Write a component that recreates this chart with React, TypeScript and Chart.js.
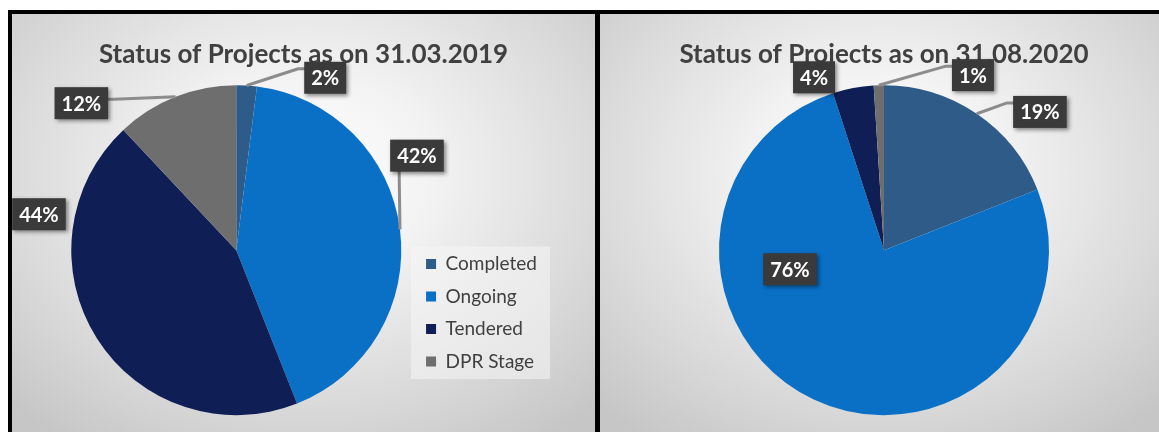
import React, { useEffect, useRef } from "react";
import { Chart, registerables } from "chart.js";

Chart.register(...registerables);

// ---------- data ----------
const CATEGORIES = ["Completed", "Ongoing", "Tendered", "DPR Stage"];
const SHARE_2019 = [2, 42, 44, 12];
const SHARE_2020 = [19, 76, 4, 1];
const TITLE_2019 = "Status of Projects as on 31.03.2019";
const TITLE_2020 = "Status of Projects as on 31.08.2020";

// ---------- styles / layout ----------
const COLORS = ["#2E5B87", "#0A70C6", "#0F1E55", "#6E6E6E"];
const FONT = "Lato, 'Open Sans', sans-serif";
const TEXT_GREY = "#404040";
const PANEL_BG =
  "radial-gradient(ellipse 72% 78% at 50% 38%, #ffffff 0%, #f3f3f3 30%, #d9d9d9 72%, #c6c6c6 100%)";

// label box centre offset from the pie centre (in pie-radius units) and leader side
const LABELS_2019 = [
  { dx: 0.539, dy: -1.045, leader: "left" },
  { dx: 1.095, dy: -0.573, leader: "bottom" },
  { dx: -1.196, dy: -0.218, leader: null },
  { dx: -0.939, dy: -0.891, leader: "right" },
];
const LABELS_2020 = [
  { dx: 0.945, dy: -0.838, leader: "left" },
  { dx: -0.57, dy: 0.115, leader: null },
  { dx: -0.424, dy: -1.048, leader: null },
  { dx: 0.539, dy: -1.061, leader: "left" },
];

const boxLabels = {
  id: "boxLabels",
  afterDatasetsDraw(chart: any, _args: any, opts: any) {
    const placements = opts.placements || [];
    const meta = chart.getDatasetMeta(0);
    const values = chart.data.datasets[0].data as number[];
    const ctx = chart.ctx as CanvasRenderingContext2D;
    ctx.save();
    ctx.font = `bold 20px ${FONT}`;
    const boxes: any[] = [];
    meta.data.forEach((arc: any, i: number) => {
      const p = placements[i];
      if (!p) return;
      const { x, y, startAngle, endAngle, outerRadius } = arc.getProps(
        ["x", "y", "startAngle", "endAngle", "outerRadius"],
        true
      );
      const mid = (startAngle + endAngle) / 2;
      const ax = x + Math.cos(mid) * outerRadius;
      const ay = y + Math.sin(mid) * outerRadius;
      const text = `${values[i]}%`;
      const tw = ctx.measureText(text).width;
      const w = tw + 14;
      const h = 32;
      const cx = x + p.dx * outerRadius;
      const cy = y + p.dy * outerRadius;
      boxes.push({ left: cx - w / 2, top: cy - h / 2, w, h, cx, cy, text, ax, ay, leader: p.leader });
    });
    // leader lines
    ctx.strokeStyle = "#8C8C8C";
    ctx.lineWidth = 3;
    ctx.lineJoin = "round";
    boxes.forEach((b) => {
      if (!b.leader) return;
      ctx.beginPath();
      ctx.moveTo(b.ax, b.ay);
      if (b.leader === "left") {
        ctx.lineTo(b.left - 6, b.top + 7);
        ctx.lineTo(b.left + 2, b.top + 7);
      } else if (b.leader === "right") {
        ctx.lineTo(b.left + b.w + 6, b.cy - 4);
        ctx.lineTo(b.left + b.w - 2, b.cy - 4);
      } else if (b.leader === "bottom") {
        ctx.lineTo(b.left + 9, b.top + b.h + 2);
        ctx.lineTo(b.left + 9, b.top + b.h - 2);
      }
      ctx.stroke();
    });
    // boxes
    boxes.forEach((b) => {
      ctx.save();
      ctx.shadowColor = "rgba(0,0,0,0.45)";
      ctx.shadowBlur = 4;
      ctx.shadowOffsetX = 2;
      ctx.shadowOffsetY = 2;
      ctx.fillStyle = "#3A3A3A";
      ctx.fillRect(b.left, b.top, b.w, b.h);
      ctx.restore();
      ctx.fillStyle = "#FFFFFF";
      ctx.textAlign = "center";
      ctx.textBaseline = "middle";
      ctx.fillText(b.text, b.cx, b.cy + 1);
    });
    ctx.restore();
  },
};

const legendBackdrop = {
  id: "legendBackdrop",
  beforeDraw(chart: any) {
    const lg = chart.legend;
    if (!lg || !lg.options.display || !lg.legendHitBoxes || !lg.legendHitBoxes.length) return;
    let l = Infinity, t = Infinity, r = -Infinity, b = -Infinity;
    lg.legendHitBoxes.forEach((h: any) => {
      l = Math.min(l, h.left);
      t = Math.min(t, h.top);
      r = Math.max(r, h.left + h.width);
      b = Math.max(b, h.top + h.height);
    });
    const ctx = chart.ctx as CanvasRenderingContext2D;
    ctx.save();
    ctx.fillStyle = "rgba(246,246,246,0.55)";
    ctx.fillRect(l - 15, t - 8, r - l + 28, b - t + 16);
    ctx.restore();
  },
};

function makeConfig(
  title: string,
  values: number[],
  placements: any[],
  showLegend: boolean,
  padding: any
): any {
  return {
    type: "pie",
    data: {
      labels: CATEGORIES,
      datasets: [
        { data: values, backgroundColor: COLORS, borderWidth: 0, hoverOffset: 0 },
      ],
    },
    options: {
      responsive: false,
      maintainAspectRatio: false,
      animation: false,
      events: [],
      layout: { padding },
      plugins: {
        title: {
          display: true,
          text: title,
          color: TEXT_GREY,
          font: { family: FONT, size: 26, weight: "bold" },
          padding: { top: 25, bottom: 15 },
        },
        legend: {
          display: showLegend,
          position: "right",
          align: "start",
          title: { display: true, text: "", font: { size: 10, lineHeight: 1 }, padding: { top: 217, bottom: 0 } },
          labels: {
            boxWidth: 10,
            boxHeight: 10,
            padding: 13.5,
            color: TEXT_GREY,
            font: { family: FONT, size: 19 },
          },
        },
        tooltip: { enabled: false },
        boxLabels: { placements },
      },
    },
    plugins: [legendBackdrop, boxLabels],
  };
}

function PieCanvas({ width, height, config }: { width: number; height: number; config: () => any }) {
  const ref = useRef<HTMLCanvasElement | null>(null);
  useEffect(() => {
    if (!ref.current) return;
    const chart = new Chart(ref.current, config());
    return () => chart.destroy();
  }, []);
  return (
    <canvas
      ref={ref}
      width={width}
      height={height}
      style={{ width, height, display: "block" }}
    />
  );
}

export default function App() {
  return (
    <div
      style={{
        position: "absolute",
        left: 0,
        top: 0,
        width: 1159,
        height: 432,
        overflow: "hidden",
        background: "#ffffff",
      }}
    >
      <div style={{ position: "absolute", left: 8, top: 10, width: 1200, height: 500, background: "#000" }} />
      <div style={{ position: "absolute", left: 12, top: 14, width: 583, height: 418, background: PANEL_BG }}>
        <PieCanvas
          width={583}
          height={418}
          config={() =>
            makeConfig(TITLE_2019, SHARE_2019, LABELS_2019, true, {
              left: 48,
              right: 48,
              top: 0,
              bottom: 16.8,
            })
          }
        />
      </div>
      <div style={{ position: "absolute", left: 600, top: 14, width: 559, height: 418, background: PANEL_BG }}>
        <PieCanvas
          width={559}
          height={418}
          config={() =>
            makeConfig(TITLE_2020, SHARE_2020, LABELS_2020, false, {
              left: 9,
              right: 0,
              top: 0,
              bottom: 16.8,
            })
          }
        />
      </div>
    </div>
  );
}
